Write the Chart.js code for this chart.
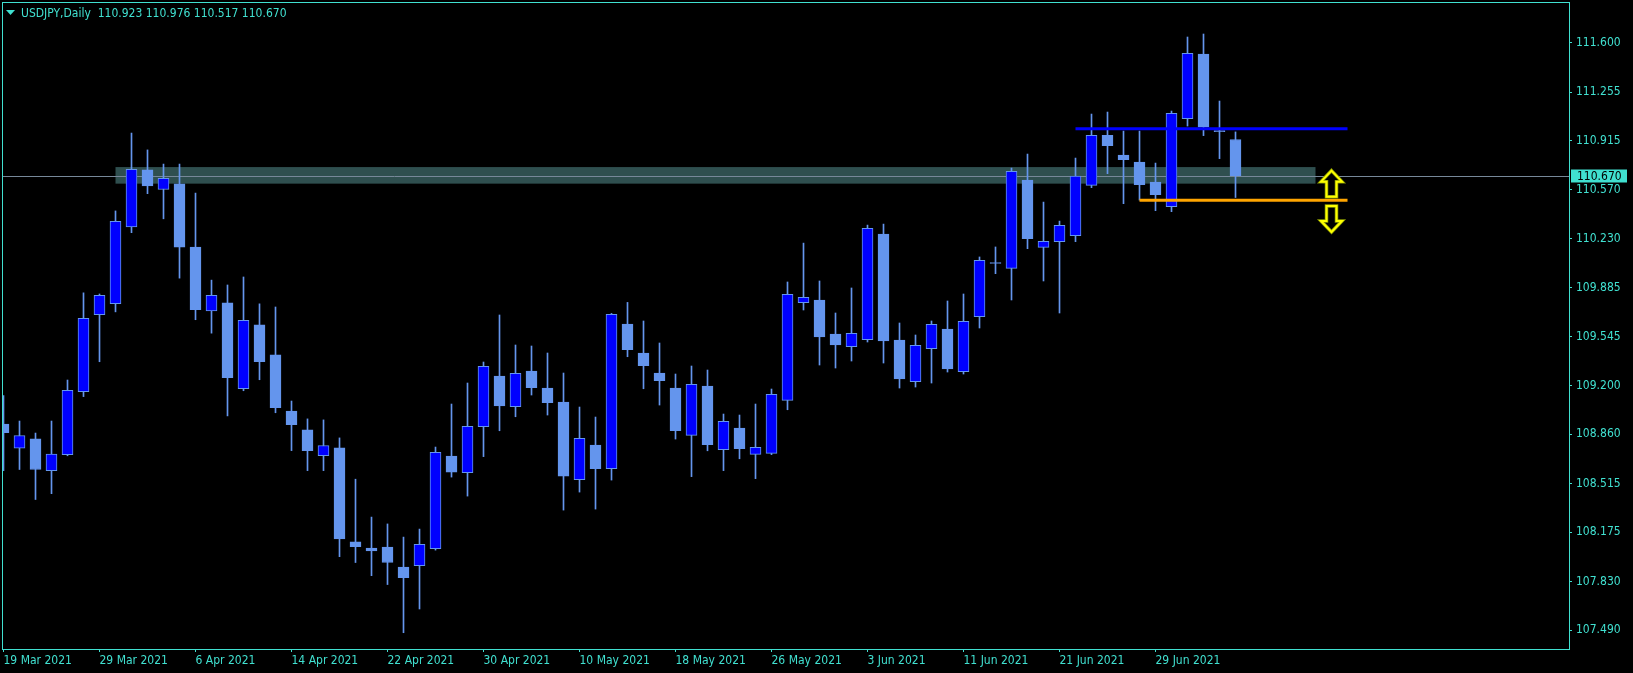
<!DOCTYPE html>
<html>
<head>
<meta charset="utf-8">
<title>USDJPY, Daily</title>
<script src="https://cdn.jsdelivr.net/npm/chart.js@4.4.0/dist/chart.umd.min.js"></script>
<style>
  html, body { margin: 0; padding: 0; background: #000; }
  #wrap { width: 1633px; height: 673px; }
</style>
</head>
<body>
<div id="wrap"><canvas id="chart"></canvas></div>
<script>
// USDJPY daily bars, 19 Mar 2021 .. 6 Jul 2021
const symbol = "USDJPY";
const period = "Daily";

const opens = [
  108.932, 108.763, 108.828, 108.606, 108.717, 109.158, 109.698, 109.775, 110.312, 110.710,
  110.573, 110.613, 110.170, 109.724, 109.780, 109.180, 109.626, 109.416, 109.023, 108.891,
  108.710, 108.765, 108.108, 108.064, 108.071, 107.932, 107.941, 108.060, 108.708, 108.592,
  108.913, 109.268, 109.053, 109.303, 109.184, 109.086, 108.543, 108.785, 108.620, 109.632,
  109.429, 109.289, 109.184, 108.853, 109.198, 108.752, 108.904, 108.720, 108.727, 109.098,
  109.781, 109.800, 109.562, 109.473, 109.522, 110.261, 109.520, 109.228, 109.459, 109.597,
  109.298, 109.683, 110.058, 110.021, 110.639, 110.168, 110.208, 110.250, 110.602, 110.952,
  110.814, 110.765, 110.625, 110.453, 111.068, 111.521, 110.982, 110.923
];
const highs = [
  109.132, 108.953, 108.869, 108.953, 109.240, 109.850, 109.842, 110.423, 110.968, 110.850,
  110.751, 110.751, 110.548, 109.939, 109.905, 109.961, 109.773, 109.751, 109.093, 108.968,
  108.961, 108.835, 108.546, 108.281, 108.233, 108.141, 108.197, 108.771, 109.072, 109.219,
  109.366, 109.695, 109.485, 109.478, 109.429, 109.289, 109.051, 108.981, 109.706, 109.783,
  109.653, 109.499, 109.282, 109.338, 109.310, 109.002, 108.995, 109.072, 109.177, 109.926,
  110.198, 109.933, 109.709, 109.884, 110.324, 110.331, 109.639, 109.555, 109.653, 109.793,
  109.842, 110.101, 110.171, 110.723, 110.821, 110.485, 110.352, 110.793, 111.101, 111.115,
  110.982, 110.982, 110.758, 111.122, 111.640, 111.661, 111.192, 110.976
];
const lows = [
  108.606, 108.614, 108.404, 108.445, 108.710, 109.124, 109.368, 109.717, 110.271, 110.544,
  110.368, 109.953, 109.662, 109.568, 108.989, 109.165, 109.242, 109.011, 108.746, 108.606,
  108.606, 108.004, 107.963, 107.871, 107.809, 107.472, 107.638, 108.050, 108.561, 108.428,
  108.704, 108.885, 108.983, 109.135, 108.995, 108.330, 108.456, 108.337, 108.540, 109.403,
  109.179, 109.065, 108.827, 108.564, 108.745, 108.606, 108.689, 108.550, 108.718, 109.032,
  109.730, 109.345, 109.324, 109.373, 109.506, 109.359, 109.184, 109.191, 109.219, 109.296,
  109.282, 109.604, 109.984, 109.800, 110.159, 109.933, 109.709, 110.208, 110.586, 110.684,
  110.474, 110.499, 110.425, 110.418, 111.017, 110.950, 110.789, 110.517
];
const closes = [
  108.871, 108.852, 108.614, 108.722, 109.168, 109.671, 109.833, 110.351, 110.715, 110.599,
  110.652, 110.170, 109.732, 109.833, 109.257, 109.657, 109.368, 109.047, 108.927, 108.746,
  108.782, 108.129, 108.074, 108.045, 107.963, 107.857, 108.090, 108.734, 108.596, 108.916,
  109.336, 109.058, 109.287, 109.186, 109.081, 108.568, 108.832, 108.620, 109.699, 109.452,
  109.340, 109.235, 108.885, 109.210, 108.787, 108.951, 108.759, 108.769, 109.140, 109.839,
  109.818, 109.541, 109.485, 109.566, 110.301, 109.513, 109.247, 109.483, 109.629, 109.317,
  109.650, 110.077, 110.055, 110.700, 110.229, 110.210, 110.322, 110.667, 110.952, 110.880,
  110.782, 110.607, 110.537, 111.106, 111.526, 111.010, 110.978, 110.670
];

// time axis labels, one every 6 bars
const tickBars = [0, 6, 12, 18, 24, 30, 36, 42, 48, 54, 60, 66, 72];
const tickLabels = [
  "19 Mar 2021", "29 Mar 2021", "6 Apr 2021", "14 Apr 2021", "22 Apr 2021", "30 Apr 2021",
  "10 May 2021", "18 May 2021", "26 May 2021", "3 Jun 2021", "11 Jun 2021", "21 Jun 2021", "29 Jun 2021"
];

// price axis labels
const priceTicks = [
  111.600, 111.255, 110.915, 110.570, 110.230, 109.885, 109.545,
  109.200, 108.860, 108.515, 108.175, 107.830, 107.490
];

// objects drawn on the chart (bar index / price)
const zoneBars = [7, 82];
const zonePrices = [110.614, 110.730];
const resistanceBars = [67, 84];
const resistancePrice = 110.999;
const supportBars = [71, 84];
const supportPrice = 110.497;
const arrowBar = 83;
const upArrow = [110.523, 110.705];
const downArrow = [110.276, 110.457];

const FG = "#40e0d0";
const BULL = "#0000ff";
const EDGE = "#6495ed";
const FONT_FAMILY = "'DejaVu Sans Condensed', 'Liberation Sans Narrow', 'DejaVu Sans', sans-serif";

const bars = opens.map((o, i) => i);
const bodyData = bars.map(i => ({ x: i, y: [opens[i], closes[i]] }));
const wickData = bars.map(i => ({ x: i, y: [lows[i], highs[i]] }));
const isBull = i => closes[i] > opens[i];

function drawArrow(ctx, cx, yTip, yTail, up) {
    const halfHead = 10.5;
    const halfShaft = 5;
    const headLen = 11;
    const dir = up ? 1 : -1;
    const yBase = yTip + dir * headLen;
    ctx.beginPath();
    ctx.moveTo(cx, yTip);
    ctx.lineTo(cx + halfHead, yBase);
    ctx.lineTo(cx + halfShaft, yBase);
    ctx.lineTo(cx + halfShaft, yTail);
    ctx.lineTo(cx - halfShaft, yTail);
    ctx.lineTo(cx - halfShaft, yBase);
    ctx.lineTo(cx - halfHead, yBase);
    ctx.closePath();
    ctx.fillStyle = "#000";
    ctx.fill();
    ctx.strokeStyle = "#8a9a00";
    ctx.lineWidth = 3.5;
    ctx.stroke();
    ctx.strokeStyle = "#ffff00";
    ctx.lineWidth = 2;
    ctx.stroke();
}

// zone, bid line, arrows, frame, header and price marker
const terminalDecor = {
    id: "terminalDecor",
    beforeDatasetsDraw(chart) {
        const { ctx, chartArea, scales } = chart;
        const x = scales.x, y = scales.y;
        ctx.save();
        ctx.beginPath();
        ctx.rect(chartArea.left, chartArea.top, chartArea.right - chartArea.left, chartArea.bottom - chartArea.top);
        ctx.clip();

        const zx0 = x.getPixelForValue(zoneBars[0]);
        const zx1 = x.getPixelForValue(zoneBars[1]);
        const zy0 = y.getPixelForValue(zonePrices[1]);
        const zy1 = y.getPixelForValue(zonePrices[0]);
        ctx.fillStyle = "#2f4f4f";
        ctx.fillRect(zx0, zy0, zx1 - zx0, zy1 - zy0);

        const by = Math.round(y.getPixelForValue(closes[closes.length - 1])) + 0.5;
        ctx.strokeStyle = "#778899";
        ctx.lineWidth = 1;
        ctx.beginPath();
        ctx.moveTo(chartArea.left, by);
        ctx.lineTo(chartArea.right, by);
        ctx.stroke();
        ctx.restore();
    },
    afterDatasetsDraw(chart) {
        const { ctx, scales } = chart;
        const cx = scales.x.getPixelForValue(arrowBar);
        ctx.save();
        ctx.lineJoin = "miter";
        drawArrow(ctx, cx, scales.y.getPixelForValue(upArrow[1]), scales.y.getPixelForValue(upArrow[0]), true);
        drawArrow(ctx, cx, scales.y.getPixelForValue(downArrow[0]), scales.y.getPixelForValue(downArrow[1]), false);
        ctx.restore();
    },
    afterDraw(chart) {
        const { ctx, chartArea, scales } = chart;
        const last = closes.length - 1;
        ctx.save();

        // frame
        ctx.strokeStyle = FG;
        ctx.lineWidth = 1;
        ctx.strokeRect(chartArea.left - 0.5, chartArea.top - 0.5,
            chartArea.right - chartArea.left + 1, chartArea.bottom - chartArea.top + 1);

        // header
        ctx.fillStyle = FG;
        ctx.beginPath();
        ctx.moveTo(6, 10);
        ctx.lineTo(15, 10);
        ctx.lineTo(10.5, 15);
        ctx.closePath();
        ctx.fill();
        ctx.font = "12px " + FONT_FAMILY;
        ctx.textBaseline = "alphabetic";
        ctx.textAlign = "left";
        const header = symbol + "," + period + "  " + [opens[last], highs[last], lows[last], closes[last]]
            .map(v => v.toFixed(3)).join(" ");
        ctx.fillText(header, 21, 17);

        // last price marker on the price axis
        const py = scales.y.getPixelForValue(closes[last]);
        ctx.fillStyle = FG;
        ctx.fillRect(chartArea.right + 2, Math.round(py) - 6.5, 56, 13);
        ctx.fillStyle = "#000";
        ctx.textBaseline = "middle";
        ctx.fillText(closes[last].toFixed(3), chartArea.right + 8, Math.round(py) + 1);
        ctx.restore();
    }
};

const ctx = document.getElementById("chart").getContext("2d");
new Chart(ctx, {
    type: "bar",
    data: {
        datasets: [
            {
                type: "line",
                label: "resistance",
                data: [{ x: resistanceBars[0], y: resistancePrice }, { x: resistanceBars[1], y: resistancePrice }],
                borderColor: "#0000ff",
                borderWidth: 3,
                pointRadius: 0,
                order: 0
            },
            {
                type: "line",
                label: "support",
                data: [{ x: supportBars[0], y: supportPrice }, { x: supportBars[1], y: supportPrice }],
                borderColor: "#ffa500",
                borderWidth: 3,
                pointRadius: 0,
                order: 0
            },
            {
                label: "body",
                data: bodyData,
                grouped: false,
                barThickness: 11,
                minBarLength: 1,
                borderWidth: 1,
                borderSkipped: false,
                backgroundColor: c => isBull(c.dataIndex) ? BULL : EDGE,
                borderColor: EDGE,
                order: 1
            },
            {
                label: "wick",
                data: wickData,
                grouped: false,
                barThickness: 1,
                borderWidth: 0,
                backgroundColor: EDGE,
                order: 2
            }
        ]
    },
    options: {
        responsive: true,
        maintainAspectRatio: false,
        animation: false,
        devicePixelRatio: 1,
        layout: { padding: { left: 3, top: 3, right: 0, bottom: 0 } },
        plugins: {
            legend: { display: false },
            tooltip: { enabled: false }
        },
        scales: {
            x: {
                type: "linear",
                min: -0.03125,
                max: 97.84375,
                bounds: "data",
                offset: false,
                grid: { display: true, offset: false, drawOnChartArea: false, drawTicks: true, tickLength: 3, color: FG },
                border: { display: false },
                afterBuildTicks: s => { s.ticks = tickBars.map(v => ({ value: v })); },
                afterFit: s => { s.height = 24; s.paddingLeft = 0; s.paddingRight = 0; },
                ticks: {
                    autoSkip: false,
                    maxRotation: 0,
                    minRotation: 0,
                    align: "start",
                    padding: 2,
                    color: FG,
                    font: { family: FONT_FAMILY, size: 12 },
                    callback: v => tickLabels[tickBars.indexOf(v)]
                }
            },
            y: {
                type: "linear",
                position: "right",
                min: 107.358,
                max: 111.878,
                bounds: "data",
                grid: { display: true, drawOnChartArea: false, drawTicks: true, tickLength: 3, color: FG },
                border: { display: false },
                afterBuildTicks: s => { s.ticks = priceTicks.map(v => ({ value: v })); },
                afterFit: s => { s.width = 64; s.paddingTop = 0; s.paddingBottom = 0; },
                ticks: {
                    padding: 4,
                    color: FG,
                    font: { family: FONT_FAMILY, size: 12 },
                    callback: v => v.toFixed(3)
                }
            }
        }
    },
    plugins: [terminalDecor]
});
</script>
</body>
</html>
